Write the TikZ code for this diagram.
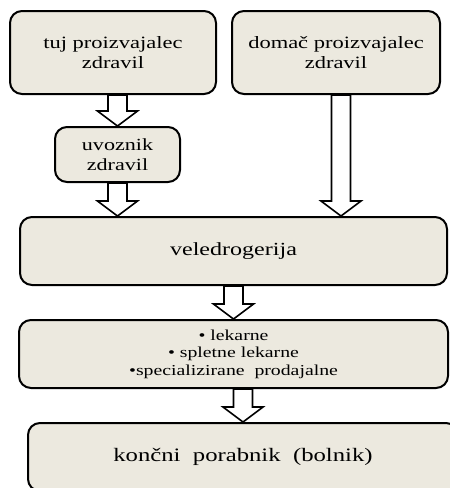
\documentclass[tikz,border=0pt]{standalone}
\usepackage{fontspec}
\setmainfont{Liberation Serif}
\newfontfamily\wideserif[FakeStretch=1.3]{Liberation Serif}
\usetikzlibrary{calc}
\definecolor{boxfill}{HTML}{ECE9DF}
\tikzset{
  box/.style={draw=black, line width=2pt, rounded corners=12pt, fill=boxfill,
    align=center, inner sep=0pt, font=\wideserif},
  barrow/.style={draw=black, line width=1.6pt, fill=white, line join=miter,
    to path={let \p1=(\tikztostart), \p2=(\tikztotarget) in
      (\x1-9.5pt,\y1) -- (\x1-9.5pt,\y2+15pt) -- (\x1-20pt,\y2+15pt) -- (\x1,\y2)
      -- (\x1+20pt,\y2+15pt) -- (\x1+9.5pt,\y2+15pt) -- (\x1+9.5pt,\y1) -- cycle}},
}
\begin{document}
\begin{tikzpicture}[x=1pt,y=-1pt]
\useasboundingbox (0,0) rectangle (450,488);
\fill[white] (0,0) rectangle (450,488);
\begin{scope}
\clip (0,0) rectangle (450,488);
\node[box, minimum width=206, minimum height=83, font=\wideserif\fontsize{17.3}{19.5}\selectfont]
  (tuj) at (113,52.5) {tuj proizvajalec\\zdravil};
\node[box, minimum width=208, minimum height=83, font=\wideserif\fontsize{17.3}{19.5}\selectfont]
  (dom) at (336,52.5) {domač proizvajalec\\zdravil};
\node[box, minimum width=125, minimum height=55, font=\wideserif\fontsize{17}{19.5}\selectfont]
  (uvoz) at (117.5,154.5) {uvoznik\\zdravil};
\node[box, minimum width=427, minimum height=68, font=\wideserif\fontsize{18.5}{22}\selectfont]
  (vele) at (233.5,251) {veledrogerija};
\node[box, minimum width=429, minimum height=68, font=\wideserif\fontsize{15.2}{17.5}\selectfont]
  (lek) at (233.5,354) {• lekarne\\• spletne lekarne\\•specializirane\ \ prodajalne};
\node[box, minimum width=430, minimum height=68, font=\wideserif\fontsize{19}{22}\selectfont]
  (konc) at (243,457) {končni\ \ porabnik\ \ (bolnik)};

\coordinate (a1s) at (tuj.south -| uvoz.north);
\coordinate (a2e) at (vele.north -| uvoz.south);
\coordinate (a3s) at ($(dom.south)+(5,0)$);
\coordinate (a3e) at (vele.north -| a3s);
\coordinate (a5s) at (lek.south -| konc.north);
\path (a1s) edge[barrow] (uvoz.north);
\path (uvoz.south) edge[barrow] (a2e);
\path (a3s) edge[barrow] (a3e);
\path (vele.south) edge[barrow] (lek.north);
\path (a5s) edge[barrow] (konc.north);
\end{scope}
\end{tikzpicture}
\end{document}
